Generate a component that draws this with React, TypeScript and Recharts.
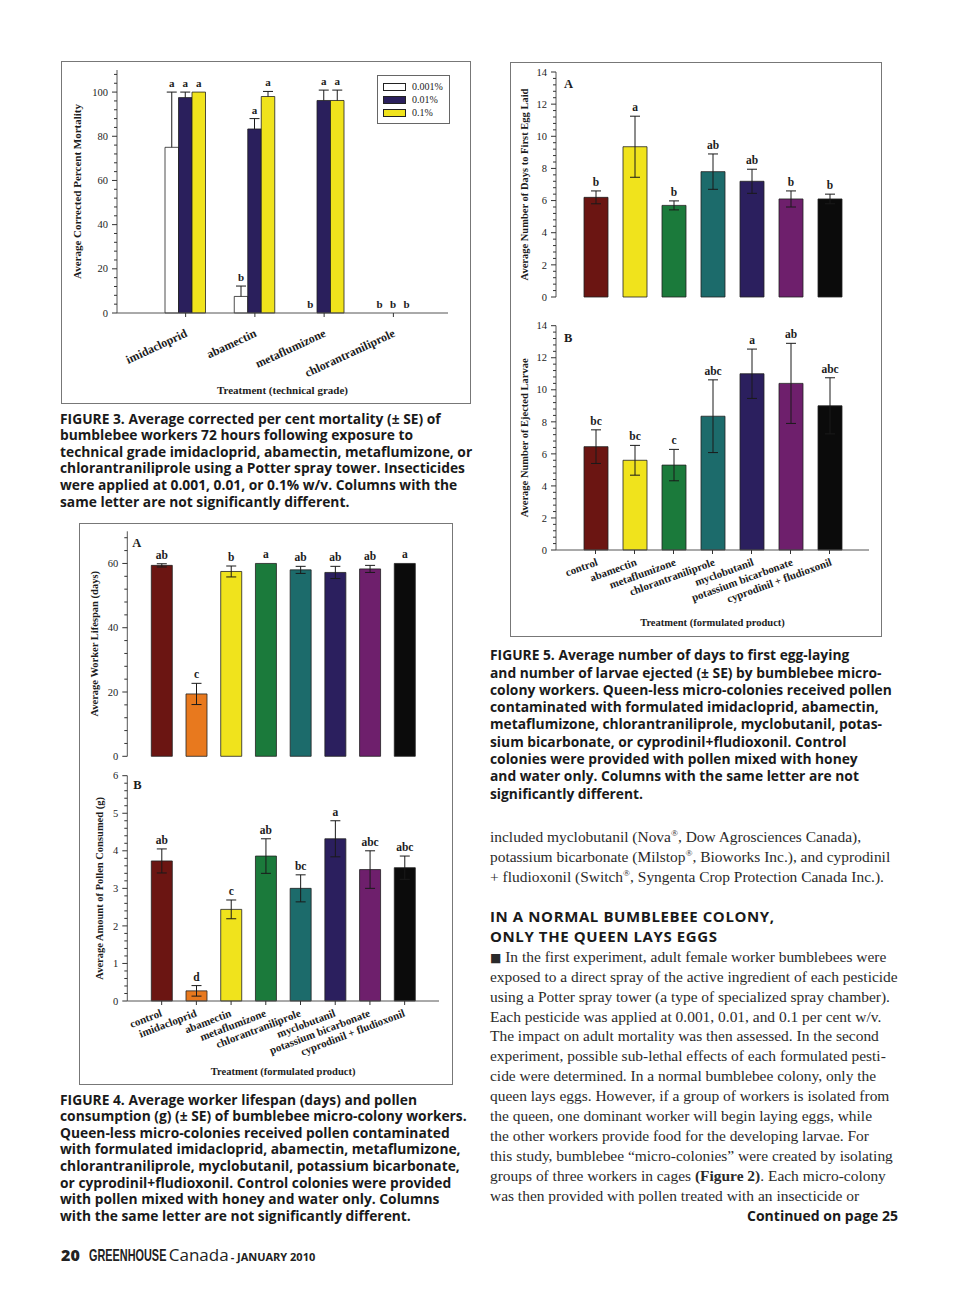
import React from 'react';
import { BarChart, Bar, Cell, XAxis, YAxis, LabelList, Legend, Label } from 'recharts';

const SERIF = '"Liberation Serif", "Times New Roman", serif';
const SANS = '"Open Sans", Lato, sans-serif';
const INK = '#1c1c1c';
const FRAME = '#555';

// ---------- Figure 3: mortality, technical grade ----------
const fig3Treatments = ['imidacloprid', 'abamectin', 'metaflumizone', 'chlorantraniliprole'];
const fig3Rates = ['0.001%', '0.01%', '0.1%'];
const fig3RateColors = ['#ffffff', '#2a1f5c', '#f0e31c'];
const fig3Low = [75, 7.5, 0, 0];
const fig3LowSE = [25, 4.7, 0, 0];
const fig3LowLetters = ['a', 'b', 'b', 'b'];
const fig3Mid = [97.5, 83.3, 96.2, 0];
const fig3MidSE = [2.5, 4.7, 4.7, 0];
const fig3MidLetters = ['a', 'a', 'a', 'b'];
const fig3High = [100, 98, 96.2, 0];
const fig3HighSE = [0, 2.3, 4.7, 0];
const fig3HighLetters = ['a', 'a', 'a', 'b'];
const fig3YTicks = [0, 20, 40, 60, 80, 100];

// ---------- Figure 4: lifespan and pollen consumption ----------
const fig4Treatments = [
  'control', 'imidacloprid', 'abamectin', 'metaflumizone', 'chlorantraniliprole',
  'myclobutanil', 'potassium bicarbonate', 'cyprodinil + fludioxonil',
];
const fig4Colors = ['#6b1512', '#e8791e', '#f0e31c', '#1b7a3b', '#1c6b6b', '#2b1f5e', '#6e1f6c', '#0b0b0b'];
const fig4Lifespan = [59.4, 19.4, 57.5, 60, 58.0, 57.2, 58.3, 60];
const fig4LifespanSE = [0.5, 3.3, 1.7, 0, 1.1, 1.9, 1.1, 0];
const fig4LifespanLetters = ['ab', 'c', 'b', 'a', 'ab', 'ab', 'ab', 'a'];
const fig4LifespanTicks = [0, 20, 40, 60];
const fig4Pollen = [3.73, 0.27, 2.44, 3.86, 3.0, 4.32, 3.5, 3.55];
const fig4PollenSE = [0.32, 0.14, 0.25, 0.46, 0.36, 0.48, 0.5, 0.31];
const fig4PollenLetters = ['ab', 'd', 'c', 'ab', 'bc', 'a', 'abc', 'abc'];
const fig4PollenTicks = [0, 1, 2, 3, 4, 5, 6];

// ---------- Figure 5: egg laying and ejected larvae ----------
const fig5Treatments = [
  'control', 'abamectin', 'metaflumizone', 'chlorantraniliprole',
  'myclobutanil', 'potassium bicarbonate', 'cyprodinil + fludioxonil',
];
const fig5Colors = ['#6b1512', '#f0e31c', '#1b7a3b', '#1c6b6b', '#2b1f5e', '#6e1f6c', '#0b0b0b'];
const fig5EggDays = [6.2, 9.35, 5.7, 7.8, 7.2, 6.1, 6.1];
const fig5EggDaysSE = [0.4, 1.9, 0.28, 1.1, 0.75, 0.5, 0.3];
const fig5EggDaysLetters = ['b', 'a', 'b', 'ab', 'ab', 'b', 'b'];
const fig5Larvae = [6.45, 5.6, 5.3, 8.35, 11.0, 10.4, 9.0];
const fig5LarvaeSE = [1.05, 0.93, 0.98, 2.27, 1.54, 2.5, 1.75];
const fig5LarvaeLetters = ['bc', 'bc', 'c', 'abc', 'a', 'ab', 'abc'];
const fig5Ticks = [0, 2, 4, 6, 8, 10, 12, 14];

// major ticks plus 4 minor marks per interval, continued up to the axis max
const withMinor = (majors: number[], max: number) => {
  const step = (majors[1] - majors[0]) / 5;
  const out: number[] = [];
  for (let v = 0; v <= max + 1e-9; v += step) out.push(Math.round(v * 1000) / 1000);
  return out;
};

type Row = { name: string; value: number; se: number; letter: string };
const toRows = (names: string[], vals: number[], se: number[], letters: string[]): Row[] =>
  names.map((name, i) => ({ name, value: vals[i], se: se[i], letter: letters[i] }));

const fig3Data = fig3Treatments.map((name, i) => ({
  name,
  r0: fig3Low[i], r0se: fig3LowSE[i], r0lt: fig3LowLetters[i],
  r1: fig3Mid[i], r1se: fig3MidSE[i], r1lt: fig3MidLetters[i],
  r2: fig3High[i], r2se: fig3HighSE[i], r2lt: fig3HighLetters[i],
}));

// ---------- small drawing helpers ----------
const Whisker = (props: any) => {
  const { x, y, width, height, both } = props;
  if (!height || height <= 0) return null;
  const cx = x + width / 2;
  const bottom = both ? y + 2 * height : y + height;
  return (
    <g stroke="#1a1a1a" strokeWidth={1} fill="none">
      <line x1={cx} y1={y} x2={cx} y2={bottom} />
      <line x1={cx - 5} y1={y} x2={cx + 5} y2={y} />
      {both && <line x1={cx - 5} y1={bottom} x2={cx + 5} y2={bottom} />}
    </g>
  );
};

const YTick = (props: any) => {
  const { x, y, payload, majors, fontSize } = props;
  const ax = x + 8;
  const v = payload.value;
  const isMajor = majors.some((m: number) => Math.abs(m - v) < 1e-6);
  return (
    <g>
      <line x1={ax - (isMajor ? 5 : 3)} x2={ax} y1={y} y2={y} stroke="#333" strokeWidth={1} />
      {isMajor && (
        <text x={ax - 9} y={y} dy="0.35em" textAnchor="end" fontFamily={SERIF} fontSize={fontSize} fill={INK}>
          {v}
        </text>
      )}
    </g>
  );
};

const XTick = (props: any) => {
  const { x, y, payload, angle, dx, dy, fontSize } = props;
  const tx = x + dx;
  const ty = y + dy;
  return (
    <text x={tx} y={ty} transform={`rotate(${angle}, ${tx}, ${ty})`} textAnchor="end"
      fontFamily={SERIF} fontWeight="bold" fontSize={fontSize} fill={INK}>
      {payload.value}
    </text>
  );
};

const yTitle = (text: string, x: number, size: number) => (props: any) => {
  const vb = props.viewBox;
  const cy = vb.y + vb.height / 2;
  return (
    <text x={x} y={cy} transform={`rotate(-90, ${x}, ${cy})`} textAnchor="middle" dominantBaseline="central"
      fontFamily={SERIF} fontWeight="bold" fontSize={size} fill={INK}>
      {text}
    </text>
  );
};

const xTitle = (text: string, d: number, size: number) => (props: any) => {
  const vb = props.viewBox;
  return (
    <text x={vb.x + vb.width / 2} y={vb.y + vb.height + d} textAnchor="middle" dominantBaseline="central"
      fontFamily={SERIF} fontWeight="bold" fontSize={size} fill={INK}>
      {text}
    </text>
  );
};

const panelLetter = (letter: string, dx: number, dy: number) => (props: any) => {
  const vb = props.viewBox;
  return (
    <text x={vb.x + vb.width + dx} y={vb.y + dy} dy="0.75em" fontFamily={SERIF} fontWeight="bold" fontSize={12.5} fill={INK}>
      {letter}
    </text>
  );
};

const Fig3Legend = (props: any) => (
  <div style={{
    border: '1px solid #666', background: '#fff', padding: '4px 5px', boxSizing: 'border-box', width: 73,
    fontFamily: SERIF, fontSize: 10, color: INK,
  }}>
    {(props.payload || []).filter((e: any) => e.type !== 'none').map((e: any) => (
      <div key={e.value} style={{ display: 'flex', alignItems: 'center', height: 13 }}>
        <span style={{ display: 'inline-block', width: 21, height: 6, background: e.color, border: '1px solid #222', marginRight: 6 }} />
        <span>{e.value}</span>
      </div>
    ))}
  </div>
);

const Box = ({ left, top, width, height }: any) => (
  <div style={{ position: 'absolute', left, top, width, height, border: '1px solid #777', boxSizing: 'border-box' }} />
);

// ---------- Figure 3 chart ----------
function Figure3() {
  const max = 110;
  const keys = ['r0', 'r1', 'r2'];
  return (
    <div style={{ position: 'absolute', left: 61, top: 62 }}>
      <BarChart width={409} height={341} data={fig3Data} margin={{ top: 8, right: 22, bottom: 30, left: 16 }}
        barGap={0} barSize={13.5}>
        <XAxis dataKey="name" interval={0} padding={{ left: 34, right: 20 }} height={60}
          axisLine={{ stroke: FRAME }} tickLine={{ stroke: '#333' }} tickSize={4} tickMargin={2}
          tick={(p: any) => <XTick {...p} angle={-25} dx={2.5} dy={17} fontSize={12} />}>
          <Label content={xTitle('Treatment (technical grade)', 17, 11)} />
        </XAxis>
        <XAxis xAxisId="top" orientation="top" dataKey="name" height={0} tick={false} tickLine={false}
          axisLine={{ stroke: FRAME }} />
        <YAxis domain={[0, max]} ticks={withMinor(fig3YTicks, max)} interval={0} width={40}
          axisLine={{ stroke: FRAME }} tickLine={false} tickSize={5} tickMargin={3}
          tick={(p: any) => <YTick {...p} majors={fig3YTicks} fontSize={10.5} />}>
          <Label content={yTitle('Average Corrected Percent Mortality', 16, 11)} />
        </YAxis>
        <YAxis yAxisId="right" orientation="right" width={0} domain={[0, max]} tick={false} tickLine={false}
          axisLine={{ stroke: FRAME }} />
        {keys.flatMap((k, i) => [
          <Bar key={k} dataKey={k} name={fig3Rates[i]} stackId={k} fill={fig3RateColors[i]}
            stroke="#222" strokeWidth={0.8} isAnimationActive={false} />,
          <Bar key={k + 'se'} dataKey={k + 'se'} stackId={k} fill="none" legendType="none"
            shape={(p: any) => <Whisker {...p} />} isAnimationActive={false}>
            <LabelList dataKey={k + 'lt'} position="top" offset={5} fill={INK} fontSize={11}
              fontWeight="bold" fontFamily={SERIF} />
          </Bar>,
        ])}
        <Legend layout="vertical" align="center" verticalAlign="middle" content={Fig3Legend}
          wrapperStyle={{ left: 316, top: 13, width: 73 }} />
      </BarChart>
    </div>
  );
}

// ---------- single-series panel (Figures 4 and 5) ----------
type PanelProps = {
  left: number; top: number; width: number; height: number;
  margin: { top: number; right: number; bottom: number; left: number };
  rows: Row[]; colors: string[]; max: number; majors: number[];
  pad: number; barSize: number; yLabel: string; yLabelX: number;
  panel: string; panelDx: number; panelDy: number;
  xAxis?: { angle: number; dx: number; dy: number; fontSize: number; title: string; titleD: number };
};

function Panel(p: PanelProps) {
  const xa = p.xAxis;
  return (
    <div style={{ position: 'absolute', left: p.left, top: p.top }}>
      <BarChart width={p.width} height={p.height} data={p.rows} margin={p.margin} barSize={p.barSize}>
        {xa ? (
          <XAxis dataKey="name" interval={0} padding={{ left: p.pad, right: p.pad }} height={60}
            axisLine={{ stroke: FRAME }} tickLine={{ stroke: '#333' }} tickSize={4} tickMargin={2}
            tick={(t: any) => <XTick {...t} angle={xa.angle} dx={xa.dx} dy={xa.dy} fontSize={xa.fontSize} />}>
            <Label content={xTitle(xa.title, xa.titleD, 10.5)} />
          </XAxis>
        ) : (
          <XAxis dataKey="name" interval={0} padding={{ left: p.pad, right: p.pad }} height={0}
            axisLine={{ stroke: FRAME }} tick={false} tickLine={false} />
        )}
        <XAxis xAxisId="top" orientation="top" dataKey="name" height={0} tick={false} tickLine={false}
          axisLine={{ stroke: FRAME }} />
        <YAxis domain={[0, p.max]} ticks={withMinor(p.majors, p.max)} interval={0} width={40}
          axisLine={{ stroke: FRAME }} tickLine={false} tickSize={5} tickMargin={3}
          tick={(t: any) => <YTick {...t} majors={p.majors} fontSize={10.5} />}>
          <Label content={yTitle(p.yLabel, p.yLabelX, 10.5)} />
          <Label content={panelLetter(p.panel, p.panelDx, p.panelDy)} />
        </YAxis>
        <YAxis yAxisId="right" orientation="right" width={0} domain={[0, p.max]} tick={false} tickLine={false}
          axisLine={{ stroke: FRAME }} />
        <Bar dataKey="value" stackId="s" stroke="#222" strokeWidth={0.8} isAnimationActive={false}>
          {p.rows.map((r, i) => <Cell key={r.name} fill={p.colors[i]} />)}
        </Bar>
        <Bar dataKey="se" stackId="s" fill="none" legendType="none"
          shape={(s: any) => <Whisker {...s} both />} isAnimationActive={false}>
          <LabelList dataKey="letter" position="top" offset={5} fill={INK} fontSize={11.5}
            fontWeight="bold" fontFamily={SERIF} />
        </Bar>
      </BarChart>
    </div>
  );
}

// ---------- text ----------
const fig3Caption = [
  'FIGURE 3. Average corrected per cent mortality (± SE) of',
  'bumblebee workers 72 hours following exposure to',
  'technical grade imidacloprid, abamectin, metaflumizone, or',
  'chlorantraniliprole using a Potter spray tower. Insecticides',
  'were applied at 0.001, 0.01, or 0.1% w/v. Columns with the',
  'same letter are not significantly different.',
];
const fig4Caption = [
  'FIGURE 4. Average worker lifespan (days) and pollen',
  'consumption (g) (± SE) of bumblebee micro-colony workers.',
  'Queen-less micro-colonies received pollen contaminated',
  'with formulated imidacloprid, abamectin, metaflumizone,',
  'chlorantraniliprole, myclobutanil, potassium bicarbonate,',
  'or cyprodinil+fludioxonil. Control colonies were provided',
  'with pollen mixed with honey and water only. Columns',
  'with the same letter are not significantly different.',
];
const fig5Caption = [
  'FIGURE 5. Average number of days to first egg-laying',
  'and number of larvae ejected (± SE) by bumblebee micro-',
  'colony workers. Queen-less micro-colonies received pollen',
  'contaminated with formulated imidacloprid, abamectin,',
  'metaflumizone, chlorantraniliprole, myclobutanil, potas-',
  'sium bicarbonate, or cyprodinil+fludioxonil. Control',
  'colonies were provided with pollen mixed with honey',
  'and water only. Columns with the same letter are not',
  'significantly different.',
];

const Lines = ({ lines, left, top, lh, style }: any) => (
  <div style={{ position: 'absolute', left, top, ...style }}>
    {lines.map((l: any, i: number) => (
      <div key={i} style={{ height: lh, lineHeight: `${lh}px`, whiteSpace: 'nowrap' }}>{l}</div>
    ))}
  </div>
);

const captionStyle = { fontFamily: SANS, fontWeight: 700, fontSize: 13.8, color: '#1a1a1a' };
const bodyStyle = { fontFamily: SERIF, fontSize: 15.45, color: '#2a2a2a' };
const sup = (s: string) => <sup style={{ fontSize: '0.6em', lineHeight: 0 }}>{s}</sup>;

export default function App() {
  return (
    <div style={{ position: 'absolute', left: 0, top: 0, width: 960, height: 1306, background: '#fff', overflow: 'hidden' }}>
      <Box left={61} top={61} width={410} height={343} />
      <Figure3 />
      <Lines lines={fig3Caption} left={60} top={410.7} lh={16.6} style={captionStyle} />

      <Box left={79} top={523} width={374} height={562} />
      <Panel left={79} top={524} width={373} height={244} margin={{ top: 7.3, right: 13, bottom: 11.7, left: 8.3 }}
        rows={toRows(fig4Treatments, fig4Lifespan, fig4LifespanSE, fig4LifespanLetters)} colors={fig4Colors}
        max={70} majors={fig4LifespanTicks} pad={17} barSize={21}
        yLabel="Average Worker Lifespan (days)" yLabelX={16} panel="A" panelDx={5} panelDy={6} />
      <Panel left={79} top={768} width={373} height={316} margin={{ top: 7.7, right: 13, bottom: 23, left: 8.3 }}
        rows={toRows(fig4Treatments, fig4Pollen, fig4PollenSE, fig4PollenLetters)} colors={fig4Colors}
        max={6} majors={fig4PollenTicks} pad={17} barSize={21}
        yLabel="Average Amount of Pollen Consumed (g)" yLabelX={21} panel="B" panelDx={6} panelDy={4}
        xAxis={{ angle: -21, dx: 1, dy: 9, fontSize: 11, title: 'Treatment (formulated product)', titleD: 10 }} />
      <Lines lines={fig4Caption} left={60} top={1091.7} lh={16.6} style={captionStyle} />

      <Box left={510} top={62} width={372} height={575} />
      <Panel left={510} top={62} width={372} height={250} margin={{ top: 10, right: 13, bottom: 15, left: 6 }}
        rows={toRows(fig5Treatments, fig5EggDays, fig5EggDaysSE, fig5EggDaysLetters)} colors={fig5Colors}
        max={14} majors={fig5Ticks} pad={20} barSize={24}
        yLabel="Average Number of Days to First Egg Laid" yLabelX={14.7} panel="A" panelDx={8} panelDy={7} />
      <Panel left={510} top={312} width={372} height={324} margin={{ top: 13.7, right: 13, bottom: 26, left: 6 }}
        rows={toRows(fig5Treatments, fig5Larvae, fig5LarvaeSE, fig5LarvaeLetters)} colors={fig5Colors}
        max={14} majors={fig5Ticks} pad={20} barSize={24}
        yLabel="Average Number of Ejected Larvae" yLabelX={14.7} panel="B" panelDx={8} panelDy={7}
        xAxis={{ angle: -20, dx: 3, dy: 9, fontSize: 11, title: 'Treatment (formulated product)', titleD: 12 }} />
      <Lines lines={fig5Caption} left={490} top={646.3} lh={17.3} style={captionStyle} />

      <Lines left={490} top={826.7} lh={20} style={bodyStyle} lines={[
        <>included myclobutanil (Nova{sup('®')}, Dow Agrosciences Canada),</>,
        <>potassium bicarbonate (Milstop{sup('®')}, Bioworks Inc.), and cyprodinil</>,
        <>+ fludioxonil (Switch{sup('®')}, Syngenta Crop Protection Canada Inc.).</>,
      ]} />
      <Lines left={490} top={907} lh={19.5}
        style={{ fontFamily: SANS, fontWeight: 700, fontSize: 15, letterSpacing: 0.6, color: '#1a1a1a' }}
        lines={['IN A NORMAL BUMBLEBEE COLONY,', 'ONLY THE QUEEN LAYS EGGS']} />
      <Lines left={490} top={946.7} lh={19.95} style={bodyStyle} lines={[
        <><span style={{ fontFamily: '"DejaVu Sans", sans-serif', fontSize: 12 }}>■</span> In the first experiment, adult female worker bumblebees were</>,
        'exposed to a direct spray of the active ingredient of each pesticide',
        'using a Potter spray tower (a type of specialized spray chamber).',
        'Each pesticide was applied at 0.001, 0.01, and 0.1 per cent w/v.',
        'The impact on adult mortality was then assessed. In the second',
        'experiment, possible sub-lethal effects of each formulated pesti-',
        'cide were determined. In a normal bumblebee colony, only the',
        'queen lays eggs. However, if a group of workers is isolated from',
        'the queen, one dominant worker will begin laying eggs, while',
        'the other workers provide food for the developing larvae. For',
        'this study, bumblebee “micro-colonies” were created by isolating',
        <>groups of three workers in cages <b>(Figure 2)</b>. Each micro-colony</>,
        'was then provided with pollen treated with an insecticide or',
      ]} />
      <div style={{ position: 'absolute', right: 62, top: 1206, fontFamily: SANS, fontWeight: 700, fontSize: 14, color: '#1a1a1a', whiteSpace: 'nowrap' }}>
        Continued on page 25
      </div>

      <div style={{ position: 'absolute', left: 61, top: 1243, display: 'flex', alignItems: 'baseline', color: '#222', whiteSpace: 'nowrap' }}>
        <span style={{ fontFamily: SANS, fontWeight: 800, fontSize: 16 }}>20</span>
        <span style={{ display: 'inline-block', width: 80, marginLeft: 9, overflow: 'visible' }}>
          <span style={{ display: 'inline-block', transform: 'scaleX(0.64)', transformOrigin: 'left', fontFamily: '"Liberation Sans", sans-serif', fontWeight: 700, fontSize: 17 }}>GREENHOUSE</span>
        </span>
        <span style={{ fontFamily: '"Open Sans", sans-serif', fontSize: 17 }}>Canada</span>
        <span style={{ fontFamily: SANS, fontWeight: 700, fontSize: 11, marginLeft: 2 }}>- JANUARY 2010</span>
      </div>
    </div>
  );
}
